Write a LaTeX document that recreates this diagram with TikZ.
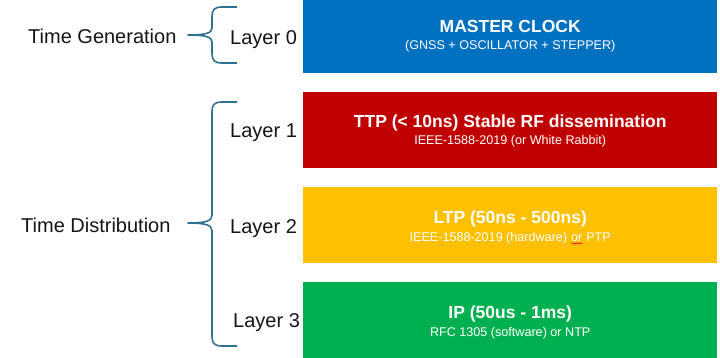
\documentclass[tikz,border=0pt]{standalone}
\usepackage{fontspec}
\setmainfont{Liberation Sans}
\usetikzlibrary{decorations.pathmorphing}

\definecolor{clkblue}{RGB}{0,112,192}
\definecolor{ttpred}{RGB}{192,0,0}
\definecolor{ltpyellow}{RGB}{255,192,0}
\definecolor{ipgreen}{RGB}{0,176,80}
\definecolor{bracecol}{RGB}{46,112,146}
\definecolor{labelcol}{RGB}{20,20,20}

\tikzset{
  layerbox/.style={draw=none, minimum width=414pt, minimum height=76pt, inner sep=0pt, anchor=north west},
  boxtitle/.style={text=white, font=\bfseries\fontsize{17.5}{20}\selectfont, anchor=base, inner sep=0pt},
  boxsub/.style={text=white, font=\fontsize{12.6}{14}\selectfont, anchor=base, inner sep=0pt},
  sidelabel/.style={text=labelcol, font=\fontsize{20}{24}\selectfont, anchor=base west, inner sep=0pt},
  curly/.style={draw=bracecol, line width=1.6pt, line join=round},
}

% a word with a wavy red underline
\newcommand{\wavyword}[1]{%
  \tikz[baseline=(w.base)]{%
    \node[inner sep=0pt] (w) {#1};
    \draw[red!85!black, line width=0.5pt, decorate,
          decoration={snake, amplitude=0.6pt, segment length=2.4pt}]
      ([yshift=-2.2pt]w.base west) -- ([yshift=-2.2pt]w.base east);
  }%
}

\begin{document}
\begin{tikzpicture}[x=1pt, y=-1pt]
  \useasboundingbox (0,0) rectangle (720,357);

  % layer boxes
  \node[layerbox, fill=clkblue]   (l0) at (303,-3)  {};
  \node[layerbox, fill=ttpred]    (l1) at (303,92)  {};
  \node[layerbox, fill=ltpyellow] (l2) at (303,187) {};
  \node[layerbox, fill=ipgreen]   (l3) at (303,282) {};

  % box texts
  \node[boxtitle] (t0) at ([yshift=2.5pt]l0.center) {MASTER CLOCK};
  \node[boxsub]   (s0) at ([yshift=-14.5pt]l0.center) {(GNSS + OSCILLATOR + STEPPER)};
  \node[boxtitle] (t1) at ([yshift=2.5pt]l1.center) {TTP (< 10ns) Stable RF dissemination};
  \node[boxsub]   (s1) at ([yshift=-14.5pt]l1.center) {IEEE-1588-2019 (or White Rabbit)};
  \node[boxtitle] (t2) at ([yshift=2pt]l2.center) {LTP (50ns - 500ns)};
  \node[boxsub]   (s2) at ([yshift=-16pt]l2.center) {IEEE-1588-2019 (hardware) \wavyword{or} PTP};
  \node[boxtitle] (t3) at ([yshift=2pt]l3.center) {IP (50us - 1ms)};
  \node[boxsub]   (s3) at ([yshift=-16pt]l3.center) {RFC 1305 (software) or NTP};

  % layer labels
  \node[sidelabel] (n0) at (230,44)  {Layer 0};
  \node[sidelabel] (n1) at (230,137) {Layer 1};
  \node[sidelabel] (n2) at (230,233) {Layer 2};
  \node[sidelabel] (n3) at (233,327) {Layer 3};

  % group labels
  \node[sidelabel] (gen)  at (28,43)  {Time Generation};
  \node[sidelabel] (dist) at (21,232) {Time Distribution};

  % brace for the generation group
  \draw[curly]
    (237,7) -- (222,7) .. controls (214,7) and (212,10) .. (212,17)
    -- (212,28) .. controls (212,33) and (206,35) .. (188,35)
    .. controls (206,35) and (212,37) .. (212,42)
    -- (212,53) .. controls (212,60) and (214,63) .. (222,63) -- (237,63);

  % brace for the distribution group
  \draw[curly]
    (237,102) -- (222,102) .. controls (214,102) and (212,105) .. (212,112)
    -- (212,215) .. controls (212,221) and (206,223) .. (188,223)
    .. controls (206,223) and (212,225) .. (212,231)
    -- (212,336) .. controls (212,343) and (214,346) .. (222,346) -- (237,346);
\end{tikzpicture}
\end{document}
